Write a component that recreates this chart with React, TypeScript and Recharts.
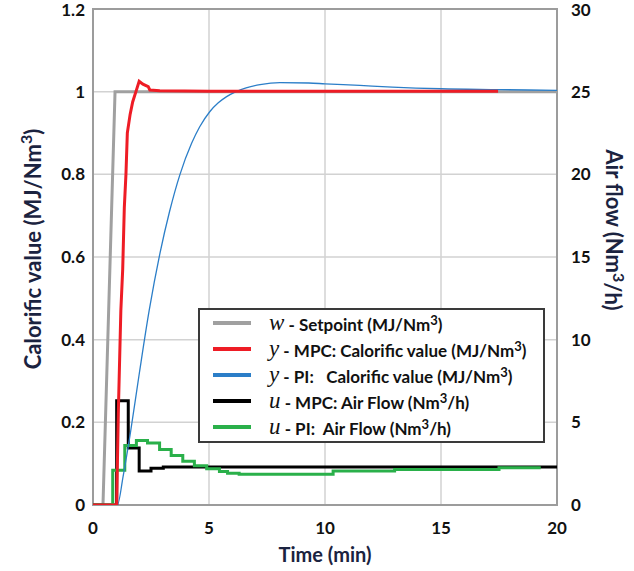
import React from 'react';
import {
  ComposedChart,
  Line,
  XAxis,
  YAxis,
  CartesianGrid,
  ReferenceArea,
  Legend,
  Label,
} from 'recharts';

// time axis (min)
const timeTicks = [0, 5, 10, 15, 20];
const calTicks = [0, 0.2, 0.4, 0.6, 0.8, 1, 1.2];
const airTicks = [0, 5, 10, 15, 20, 25, 30];

// w - setpoint (MJ/Nm3)
const setpointT = [0, 0.43, 0.95, 20];
const setpointV = [0, 0, 1, 1];

// y - MPC calorific value
const mpcYT = [0, 1.02, 1.09, 1.2, 1.28, 1.35, 1.42, 1.48, 1.6, 1.71, 1.85, 1.99, 2.15, 2.38, 2.45, 2.88, 5, 10, 17.46];
const mpcYV = [0, 0, 0.22, 0.47, 0.57, 0.72, 0.8, 0.9, 0.945, 0.975, 1.0, 1.025, 1.018, 1.012, 1.004, 1.002, 1.001, 1.001, 1.001];

// y - PI calorific value
const piYT = [0, 1.05, 1.3, 1.6, 2.0, 2.42, 2.89, 3.3, 3.75, 4.25, 4.6, 5.04, 5.4, 5.76, 6.12, 6.6, 7.2, 8.06, 9.3, 10, 11.5, 12.9, 15, 17.5, 20];
const piYV = [0, 0, 0.07, 0.17, 0.32, 0.47, 0.61, 0.71, 0.8, 0.875, 0.915, 0.952, 0.973, 0.988, 0.999, 1.009, 1.017, 1.022, 1.021, 1.019, 1.015, 1.011, 1.007, 1.005, 1.003];

// u - MPC air flow (Nm3/h)
const mpcUT = [0, 1.02, 1.52, 1.99, 2.5, 3.03, 20];
const mpcUV = [0, 6.3, 3.45, 2.05, 2.22, 2.3, 2.3];

// u - PI air flow (Nm3/h)
const piUT = [0, 0.85, 1.37, 1.87, 2.35, 2.87, 3.37, 3.87, 4.37, 4.9, 5.45, 5.8, 6.3, 10.35, 13, 17.5, 19.3];
const piUV = [0, 2.1, 3.6, 3.9, 3.75, 3.35, 3.0, 2.65, 2.38, 2.2, 2.02, 1.92, 1.86, 2.06, 2.15, 2.25, 2.25];

const zip = (ts: number[], vs: number[]) => ts.map((t, i) => ({ t, v: vs[i] }));

const setpointData = zip(setpointT, setpointV);
const mpcYData = zip(mpcYT, mpcYV);
const piYData = zip(piYT, piYV);
const mpcUData = zip(mpcUT, mpcUV);
const piUData = zip(piUT, piUV);

const FONT = 'Lato, "Open Sans", sans-serif';
const TITLE = '#1b2340';

const legendRows = [
  { sym: 'w', text: ' - Setpoint (MJ/Nm', tail: ')', color: '#a0a0a0' },
  { sym: 'y', text: ' - MPC: Calorific value (MJ/Nm', tail: ')', color: '#ee1c25' },
  { sym: 'y', text: ' - PI:   Calorific value (MJ/Nm', tail: ')', color: '#2b7ec8' },
  { sym: 'u', text: ' - MPC: Air Flow (Nm', tail: '/h)', color: '#000000' },
  { sym: 'u', text: ' - PI:  Air Flow (Nm', tail: '/h)', color: '#2ab04a' },
];

const LegendBox = () => (
  <div
    style={{
      boxSizing: 'border-box',
      width: 347,
      height: 135,
      border: '2px solid #3a3a3a',
      background: '#fff',
    }}
  >
    {legendRows.map((r, i) => (
      <div key={i} style={{ display: 'flex', alignItems: 'center', height: 26 }}>
        <div style={{ width: 38, height: 4, background: r.color, marginLeft: 13, marginRight: 18 }} />
        <span style={{ fontFamily: '"Liberation Serif", serif', fontStyle: 'italic', fontSize: 23, color: '#111' }}>
          {r.sym}
        </span>
        <span style={{ fontFamily: FONT, fontWeight: 700, fontSize: 17, color: '#111', whiteSpace: 'pre' }}>
          {r.text}
          <sup style={{ fontSize: 13, verticalAlign: 6 }}>3</sup>
          {r.tail}
        </span>
      </div>
    ))}
  </div>
);

const tickStyle = { fontFamily: FONT, fontWeight: 700, fontSize: 17, fill: '#111' };

export default function App() {
  return (
    <div style={{ position: 'absolute', left: 0, top: 0, width: 634, height: 571, background: '#fff' }}>
      <ComposedChart width={634} height={571} margin={{ top: 9, right: 17, bottom: 36, left: 33 }}>
        <CartesianGrid stroke="#d2d2d2" strokeWidth={1.5} />
        <XAxis
          type="number"
          dataKey="t"
          domain={[0, 20]}
          ticks={timeTicks}
          height={30}
          axisLine={false}
          tickLine={false}
          tickSize={0}
          tickMargin={17}
          tick={tickStyle}
          allowDataOverflow
        >
          <Label
            content={() => (
              <text x={325} y={562} textAnchor="middle" fontFamily={FONT} fontWeight={700} fontSize={20} fill={TITLE}>
                Time (min)
              </text>
            )}
          />
        </XAxis>
        <YAxis
          domain={[0, 1.2]}
          ticks={calTicks}
          width={60}
          axisLine={false}
          tickLine={false}
          tickSize={0}
          tickMargin={8}
          tick={tickStyle}
          allowDataOverflow
        >
          <Label
            content={() => (
              <text
                x={32}
                y={249}
                transform="rotate(-90 32 249)"
                textAnchor="middle"
                dominantBaseline="central"
                fontFamily={FONT}
                fontWeight={700}
                fontSize={22}
                fill={TITLE}
              >
                Calorific value (MJ/Nm
                <tspan fontSize={16} dy={-7}>3</tspan>
                <tspan dy={7}>)</tspan>
              </text>
            )}
          />
        </YAxis>
        <YAxis
          yAxisId="right"
          orientation="right"
          domain={[0, 30]}
          ticks={airTicks}
          width={60}
          axisLine={false}
          tickLine={false}
          tickSize={0}
          tickMargin={14}
          tick={tickStyle}
          allowDataOverflow
        >
          <Label
            content={() => (
              <text
                x={614}
                y={230}
                transform="rotate(90 614 230)"
                textAnchor="middle"
                dominantBaseline="central"
                fontFamily={FONT}
                fontWeight={700}
                fontSize={22}
                fill={TITLE}
              >
                Air flow (Nm
                <tspan fontSize={16} dy={-6}>3</tspan>
                <tspan dy={6}>/h)</tspan>
              </text>
            )}
          />
        </YAxis>
        <ReferenceArea x1={0} x2={20} y1={0} y2={1.2} fill="none" stroke="#9c9c9c" strokeWidth={2} />
        <Line data={setpointData} dataKey="v" type="linear" stroke="#a0a0a0" strokeWidth={3} dot={false} activeDot={false} isAnimationActive={false} />
        <Line data={mpcUData} yAxisId="right" dataKey="v" type="stepAfter" stroke="#000000" strokeWidth={3} dot={false} activeDot={false} isAnimationActive={false} />
        <Line data={piUData} yAxisId="right" dataKey="v" type="stepAfter" stroke="#2ab04a" strokeWidth={3} dot={false} activeDot={false} isAnimationActive={false} />
        <Line data={piYData} dataKey="v" type="monotone" stroke="#2b7ec8" strokeWidth={1.3} dot={false} activeDot={false} isAnimationActive={false} />
        <Line data={mpcYData} dataKey="v" type="linear" stroke="#ee1c25" strokeWidth={3} dot={false} activeDot={false} isAnimationActive={false} />
        <Legend
          layout="horizontal"
          verticalAlign="middle"
          align="center"
          content={LegendBox}
          wrapperStyle={{ left: 198, top: 308, width: 347, height: 135 }}
        />
      </ComposedChart>
    </div>
  );
}
